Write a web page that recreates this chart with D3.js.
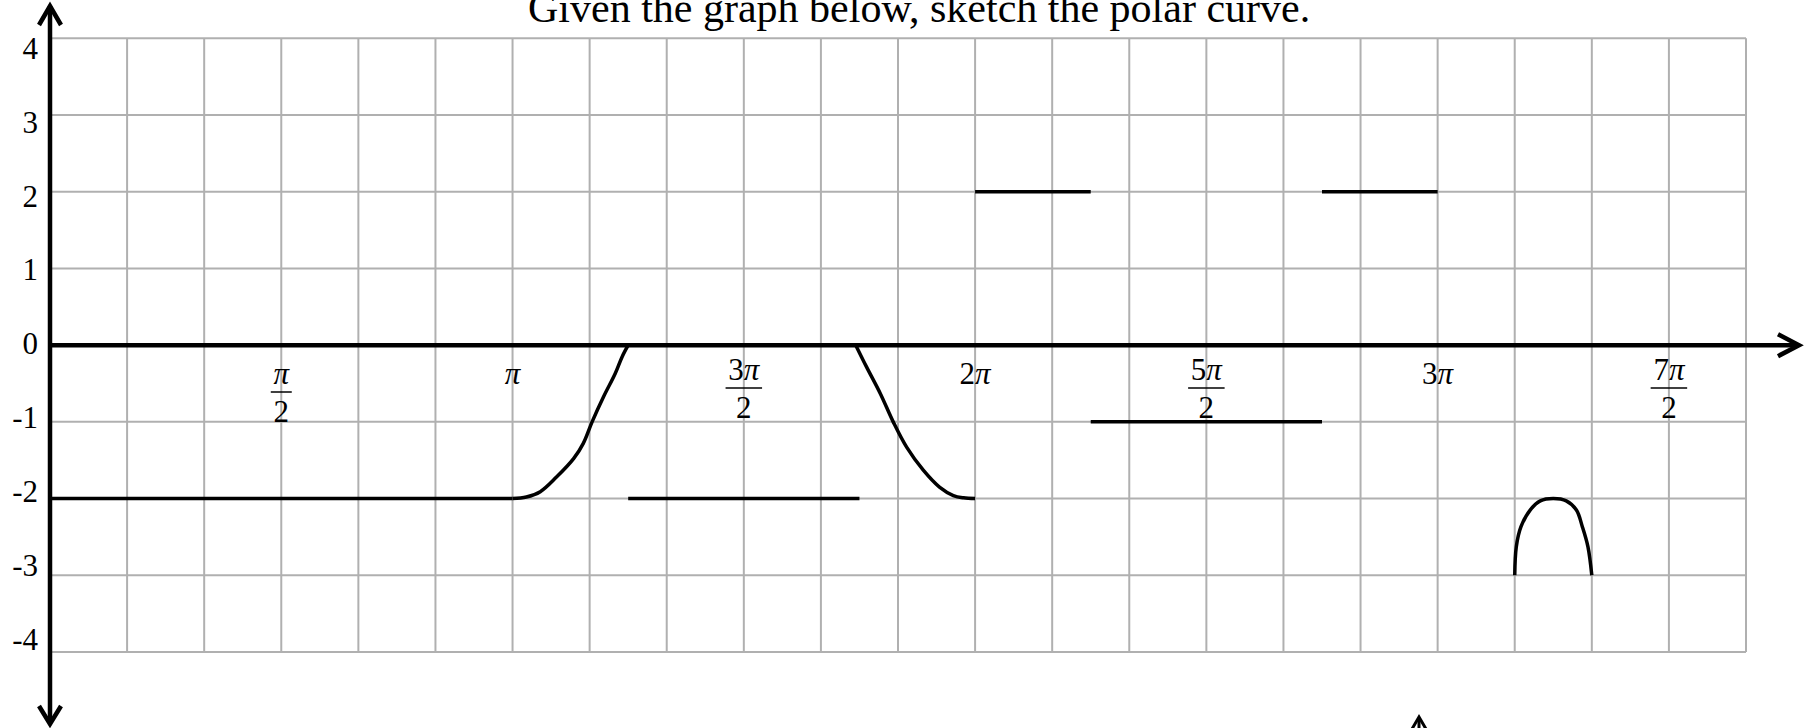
<!DOCTYPE html>
<html>
<head>
<meta charset="utf-8">
<script src="https://cdn.jsdelivr.net/npm/d3@7"></script>
<style>
  html, body { margin: 0; padding: 0; background: #fff; }
  svg { display: block; }
  text { font-family: "Liberation Serif", "Times New Roman", serif; fill: #000; }
</style>
</head>
<body>
<script>
// ---- data (theta in multiples of pi, r values) ----
const titleText = "Given the graph below, sketch the polar curve.";
const yTicks = [4, 3, 2, 1, 0, -1, -2, -3, -4];
const thetaTicks = [0.5, 1, 1.5, 2, 2.5, 3, 3.5];
const tickNumerators = ["π", "π", "3π", "2π", "5π", "3π", "7π"];
const tickDenominators = ["2", "", "2", "", "2", "", "2"];
const gridThetaStep = 1 / 6;          // grid columns every pi/6
const thetaMax = 22 / 6;              // right edge of grid

// flat pieces: [thetaStart, thetaEnd, r]
const flatStart = [0, 1.25, 2, 2.25, 2.75];
const flatEnd = [1, 1.75, 2.25, 2.75, 3];
const flatR = [-2, -2, 2, -1, 2];

// curved pieces
const riseTheta = [1.0, 1.03, 1.06, 1.095, 1.132, 1.153, 1.172, 1.197, 1.222, 1.237, 1.25];
const riseR = [-2, -1.98, -1.91, -1.72, -1.48, -1.28, -1.0, -0.67, -0.37, -0.15, 0];
const fallTheta = [1.742, 1.765, 1.795, 1.823, 1.852, 1.888, 1.923, 1.953, 1.975, 2.0];
const fallR = [0, -0.28, -0.63, -1.0, -1.33, -1.63, -1.85, -1.96, -1.99, -2];
const archTheta = [3.1667, 3.17, 3.18, 3.2, 3.222, 3.25, 3.278, 3.3, 3.313, 3.325, 3.3333];
const archR = [-3, -2.63, -2.37, -2.15, -2.03, -2.0, -2.03, -2.15, -2.37, -2.63, -3];

// ---- layout ----
const W = 1816, H = 728;
const svg = d3.select("body").append("svg").attr("width", W).attr("height", H);

const x = d3.scaleLinear().domain([0, thetaMax]).range([50, 1746]);
const y = d3.scaleLinear().domain([4, -4]).range([38.3, 652]);
const yLab = d3.scaleLinear().domain([4, -4]).range([48, 639]);

// title
svg.append("text").attr("x", 528).attr("y", 22)
  .attr("font-size", 42).text(titleText);

// grid
const gridCols = d3.range(1, 23).map(k => k * gridThetaStep);
svg.append("g").selectAll("line").data(gridCols).join("line")
  .attr("x1", d => x(d)).attr("x2", d => x(d))
  .attr("y1", y(4)).attr("y2", y(-4))
  .attr("stroke", "#b0b0b0").attr("stroke-width", 2);
svg.append("g").selectAll("line").data(yTicks).join("line")
  .attr("x1", x(0)).attr("x2", x(thetaMax))
  .attr("y1", d => y(d)).attr("y2", d => y(d))
  .attr("stroke", "#b0b0b0").attr("stroke-width", 2);

// axes
const ax = svg.append("g").attr("stroke", "#000").attr("fill", "none")
  .attr("stroke-width", 4.5).attr("stroke-linejoin", "miter");
ax.append("line").attr("x1", x(0)).attr("x2", 1798).attr("y1", y(0)).attr("y2", y(0));
ax.append("path").attr("d", `M${1778},${y(0) - 11}L${1799},${y(0)}L${1778},${y(0) + 11}`);
ax.append("line").attr("x1", x(0)).attr("x2", x(0)).attr("y1", 6).attr("y2", 723);
ax.append("path").attr("d", `M${x(0) - 11},${25}L${x(0)},${6}L${x(0) + 11},${25}`);
ax.append("path").attr("d", `M${x(0) - 11},${706}L${x(0)},${724}L${x(0) + 11},${706}`);

// partial arrow of the next figure at the bottom
const ax2 = svg.append("g").attr("stroke", "#000").attr("fill", "none").attr("stroke-width", 3);
ax2.append("line").attr("x1", 1419).attr("x2", 1419).attr("y1", 718).attr("y2", 730);
ax2.append("path").attr("d", "M1412,729L1419,717L1426,729");

// y labels
svg.append("g").selectAll("text").data(yTicks).join("text")
  .attr("x", 38).attr("y", d => yLab(d)).attr("dy", "0.35em")
  .attr("text-anchor", "end").attr("font-size", 31)
  .text(d => d);

// theta labels
function piText(sel, s) {
  const pre = s.replace("π", "");
  if (pre) sel.append("tspan").text(pre);
  sel.append("tspan").attr("font-style", "italic").text("π");
}
const tl = svg.append("g");
thetaTicks.forEach((t, i) => {
  const cx = x(t);
  const num = tickNumerators[i], den = tickDenominators[i];
  if (den) {
    const off = num === "π" ? 4 : 0;
    const nt = tl.append("text").attr("x", cx).attr("y", 380 + off)
      .attr("text-anchor", "middle").attr("font-size", 31);
    piText(nt, num);
    const bw = nt.node().getBBox().width + 4;
    tl.append("line").attr("x1", cx - bw / 2).attr("x2", cx + bw / 2)
      .attr("y1", 388 + off).attr("y2", 388 + off).attr("stroke", "#000").attr("stroke-width", 1.5);
    tl.append("text").attr("x", cx).attr("y", 418 + off)
      .attr("text-anchor", "middle").attr("font-size", 31).text(den);
  } else {
    const nt = tl.append("text").attr("x", cx).attr("y", 384)
      .attr("text-anchor", "middle").attr("font-size", 31);
    piText(nt, num);
  }
});

// curve pieces
const line = d3.line().x(d => x(d[0])).y(d => y(d[1]));
const smooth = d3.line().x(d => x(d[0])).y(d => y(d[1])).curve(d3.curveCatmullRom.alpha(0.5));
const g = svg.append("g").attr("fill", "none").attr("stroke", "#000").attr("stroke-width", 3.5);
flatStart.forEach((s, i) => {
  g.append("path").attr("d", line([[s, flatR[i]], [flatEnd[i], flatR[i]]]));
});
g.append("path").attr("d", smooth(riseTheta.map((t, i) => [t, riseR[i]])));
g.append("path").attr("d", smooth(fallTheta.map((t, i) => [t, fallR[i]])));
g.append("path").attr("d", smooth(archTheta.map((t, i) => [t, archR[i]])));
</script>
</body>
</html>
